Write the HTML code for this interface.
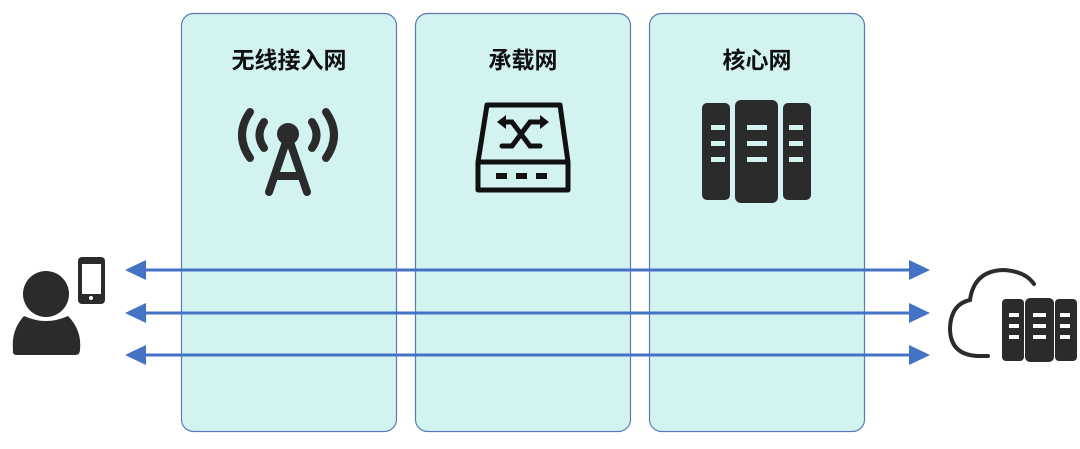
<!DOCTYPE html>
<html><head><meta charset="utf-8"><style>
body{margin:0;background:#fff;width:1080px;height:444px;overflow:hidden}
text{font-family:"Liberation Sans","Noto Sans CJK SC",sans-serif;font-weight:bold;font-size:23px;fill:#111}
</style></head><body>
<svg width="1080" height="444" viewBox="0 0 1080 444">
<g fill="#d3f3f0" stroke="#5a7ab8" stroke-width="1.2">
<rect x="181.5" y="13.5" width="215" height="418" rx="12"/>
<rect x="415.5" y="13.5" width="215" height="418" rx="12"/>
<rect x="649.5" y="13.5" width="215" height="418" rx="12"/>
</g>
<text x="289" y="68" text-anchor="middle">无线接入网</text>
<text x="523" y="68" text-anchor="middle">承载网</text>
<text x="757" y="68" text-anchor="middle">核心网</text>
<!-- tower -->
<g stroke="#2b2b2b" stroke-width="8" fill="none" stroke-linecap="round">
<path d="M250 112 Q234 135 250 158"/><path d="M264 122 Q255 135 264 148"/>
<path d="M326 112 Q342 135 326 158"/><path d="M312 122 Q321 135 312 148"/>
<path d="M286 142 L269 192 M290 142 L307 192 M275 176 L301 176"/>
</g>
<circle cx="288" cy="134" r="11" fill="#2b2b2b"/>
<!-- switch -->
<g stroke="#111" stroke-width="5" fill="none" stroke-linejoin="round">
<path d="M487 105 L560 105 L568 162 L568 190 L478 190 L478 162 Z"/>
<path d="M478 162 L568 162"/>
</g>
<g stroke="#111" stroke-width="5" fill="none" stroke-linecap="round">
<path d="M502 122 L512 122 L530 146 L540 146"/><path d="M502 146 L512 146 L530 122 L540 122"/>
</g>
<g fill="#111"><path d="M497 122 l9 -7 v14z M549 122 l-9 -7 v14z"/>
<rect x="496" y="173" width="11" height="6"/><rect x="516" y="173" width="11" height="6"/><rect x="536" y="173" width="11" height="6"/></g>
<!-- servers -->
<g fill="#2b2b2b">
<rect x="702" y="103" width="28" height="97" rx="5"/>
<rect x="735" y="100" width="43" height="103" rx="6"/>
<rect x="783" y="103" width="28" height="97" rx="5"/>
</g>
<g fill="#d3f3f0">
<rect x="711" y="125" width="14" height="5"/><rect x="711" y="141" width="14" height="5"/><rect x="711" y="157" width="14" height="5"/>
<rect x="747" y="125" width="20" height="5"/><rect x="747" y="141" width="20" height="5"/><rect x="747" y="157" width="20" height="5"/>
<rect x="789" y="125" width="14" height="5"/><rect x="789" y="141" width="14" height="5"/><rect x="789" y="157" width="14" height="5"/>
</g>
<!-- arrows -->
<g stroke="#4472c4" stroke-width="3">
<line x1="140" y1="270" x2="915" y2="270"/><line x1="140" y1="313" x2="915" y2="313"/><line x1="140" y1="355" x2="915" y2="355"/>
</g>
<g fill="#4472c4">
<path d="M125 270 l21 -10 v20z M930 270 l-21 -10 v20z"/>
<path d="M125 313 l21 -10 v20z M930 313 l-21 -10 v20z"/>
<path d="M125 355 l21 -10 v20z M930 355 l-21 -10 v20z"/>
</g>
<!-- user -->
<g fill="#2b2b2b">
<circle cx="46" cy="294" r="23"/>
<path d="M24 316 Q46 326 68 316 Q82 330 80 350 Q80 355 75 355 L17 355 Q12 355 13 350 Q11 330 24 316Z"/>
<rect x="78" y="257" width="27" height="47" rx="4"/>
</g>
<rect x="82" y="264" width="19" height="30" fill="#fff"/>
<circle cx="91" cy="298" r="2" fill="#fff"/>
<!-- cloud -->
<path d="M988 356 L978 356 Q950 355 950 328 Q951 304 970 300 Q974 271 1003 270 Q1025 271 1034 284" stroke="#2b2b2b" stroke-width="4" fill="none" stroke-linecap="round"/>
<g fill="#2b2b2b">
<rect x="1002" y="299" width="22" height="62" rx="4"/>
<rect x="1025" y="298" width="29" height="64" rx="5"/>
<rect x="1055" y="299" width="22" height="62" rx="4"/>
</g>
<g fill="#fff">
<rect x="1009" y="313" width="10" height="4"/><rect x="1009" y="324" width="10" height="4"/><rect x="1009" y="335" width="10" height="4"/>
<rect x="1033" y="313" width="13" height="4"/><rect x="1033" y="324" width="13" height="4"/><rect x="1033" y="335" width="13" height="4"/>
<rect x="1060" y="313" width="10" height="4"/><rect x="1060" y="324" width="10" height="4"/><rect x="1060" y="335" width="10" height="4"/>
</g>
</svg>
</body></html>
